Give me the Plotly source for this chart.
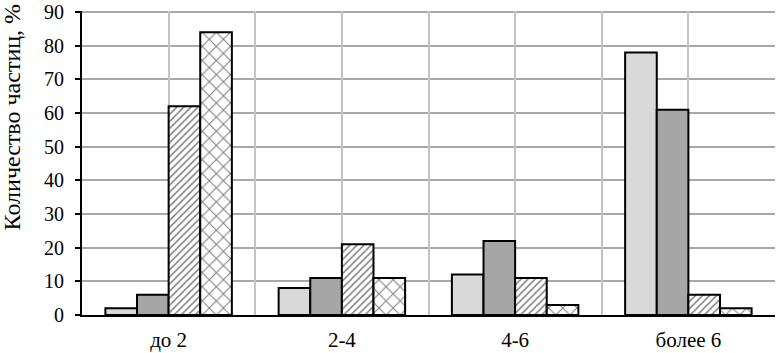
import plotly.graph_objects as go

categories = ["до 2", "2-4", "4-6", "более 6"]
series_1 = [2, 8, 12, 78]
series_2 = [6, 11, 22, 61]
series_3 = [62, 21, 11, 6]
series_4 = [84, 11, 3, 2]
y_ticks = [0, 10, 20, 30, 40, 50, 60, 70, 80, 90]
y_title = "Количество частиц, %"

FONT = "Liberation Serif"

fig = go.Figure()
line = dict(color="black", width=2)
fig.add_trace(go.Bar(x=categories, y=series_1, marker=dict(color="#d9d9d9", line=line)))
fig.add_trace(go.Bar(x=categories, y=series_2, marker=dict(color="#a6a6a6", line=line)))
fig.add_trace(go.Bar(x=categories, y=series_3, marker=dict(
    color="white", line=line,
    pattern=dict(shape="/", fgcolor="black", bgcolor="white", size=5, solidity=0.3, fillmode="overlay"))))
fig.add_trace(go.Bar(x=categories, y=series_4, marker=dict(
    color="white", line=line,
    pattern=dict(shape="x", fgcolor="black", bgcolor="white", size=10, solidity=0.2, fillmode="overlay"))))

fig.update_layout(
    width=776, height=353,
    margin=dict(l=82, r=1, t=11, b=38),
    paper_bgcolor="white", plot_bgcolor="white",
    barmode="group", bargap=0.27, bargroupgap=0,
    showlegend=False,
    font=dict(family=FONT, size=21, color="black"),
    xaxis=dict(type="category", showgrid=False, showline=True, linecolor="black", linewidth=2,
               ticks="", tickfont=dict(size=21, family=FONT), zeroline=False, automargin=False,
               ticklabelstandoff=5, ticklabeloverflow="allow"),
    xaxis2=dict(overlaying="x", type="linear", range=[-0.5, 3.5], dtick=0.5, tick0=-0.5,
                showgrid=True, gridcolor="#c4c4c4", gridwidth=1.5, showticklabels=False,
                ticks="", showline=False, zeroline=False, automargin=False),
    yaxis=dict(range=[0, 90.3], tickvals=y_ticks, showgrid=True, gridcolor="#a8a8a8", gridwidth=1.5,
               showline=True, linecolor="black", linewidth=2, ticks="outside", ticklen=5,
               tickcolor="black", tickwidth=1.5, zeroline=False, automargin=False,
               tickfont=dict(size=20, family=FONT), ticklabeloverflow="allow",
               ticklabelstandoff=7),
    annotations=[dict(text=y_title, textangle=-90, xref="paper", yref="paper",
                      x=-0.101, y=0.65, xanchor="center", yanchor="middle", showarrow=False,
                      font=dict(size=24, family=FONT, color="black"))],
)
fig.add_trace(go.Scatter(x=[-0.5, 3.5], y=[0, 0], xaxis="x2", mode="lines",
                         line=dict(width=0), hoverinfo="skip", showlegend=False))

fig.write_html("out.html", config={"displayModeBar": False})
with open("out.html", "r", encoding="utf-8") as f:
    html = f.read()
html = html.replace("<head>", "<head><style>html,body{margin:0;padding:0;overflow:hidden;}</style>", 1)
with open("out.html", "w", encoding="utf-8") as f:
    f.write(html)
